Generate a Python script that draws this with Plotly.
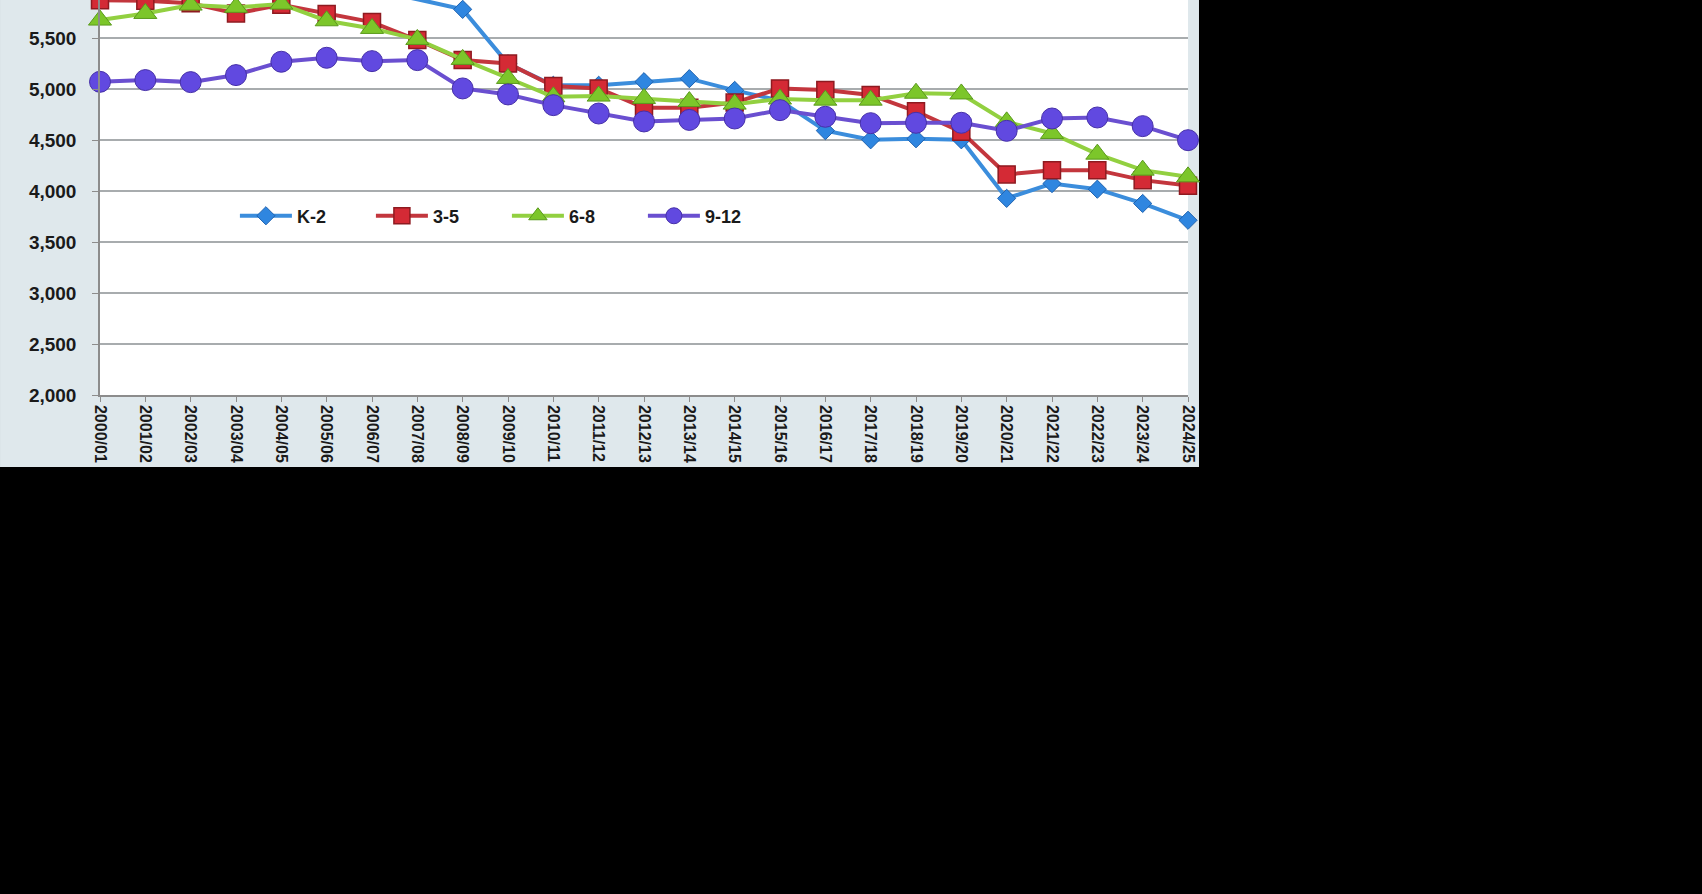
import plotly.graph_objects as go

years = ["2000/01", "2001/02", "2002/03", "2003/04", "2004/05", "2005/06", "2006/07",
         "2007/08", "2008/09", "2009/10", "2010/11", "2011/12", "2012/13", "2013/14",
         "2014/15", "2015/16", "2016/17", "2017/18", "2018/19", "2019/20", "2020/21",
         "2021/22", "2022/23", "2023/24", "2024/25"]

# K-2 runs above the visible top of the chart before 2007/08
k2 = [6100, 6150, 6120, 6080, 6050, 6020, 5970, 5885, 5785, 5250, 5040, 5040, 5075,
      5105, 4990, 4890, 4595, 4505, 4515, 4505, 3930, 4075, 4020, 3880, 3715]
g3_5 = [5875, 5870, 5845, 5745, 5830, 5740, 5660, 5484, 5287, 5254, 5032, 5009, 4820,
        4820, 4870, 5009, 4993, 4945, 4785, 4583, 4165, 4205, 4207, 4109, 4055]
g6_8 = [5680, 5745, 5827, 5805, 5837, 5673, 5598, 5490, 5294, 5107, 4927, 4934, 4911,
        4880, 4855, 4905, 4894, 4894, 4962, 4955, 4681, 4567, 4364, 4207, 4141]
g9_12 = [5074, 5091, 5071, 5140, 5271, 5310, 5277, 5287, 5009, 4950, 4845, 4763, 4685,
         4700, 4714, 4796, 4731, 4668, 4672, 4672, 4593, 4714, 4724, 4639, 4501]

font = dict(family="Liberation Sans, Arial, sans-serif", color="#1a1a1a", weight="bold")

fig = go.Figure()
fig.add_trace(go.Scatter(x=years, y=k2, name="K-2", mode="lines+markers", cliponaxis=False,
                         line=dict(color="#3b8ddc", width=4),
                         marker=dict(symbol="diamond", size=14, color="#2f86e0",
                                     line=dict(color="#1f63b0", width=1))))
fig.add_trace(go.Scatter(x=years, y=g3_5, name="3-5", mode="lines+markers", cliponaxis=False,
                         line=dict(color="#c3363d", width=4),
                         marker=dict(symbol="square", size=17, color="#d42a35",
                                     line=dict(color="#8e1a20", width=1.5))))
fig.add_trace(go.Scatter(x=years, y=g6_8, name="6-8", mode="lines+markers", cliponaxis=False,
                         line=dict(color="#92d040", width=4),
                         marker=dict(symbol="triangle-up", size=20, color="#7cc62a",
                                     line=dict(color="#5a9a1c", width=1))))
fig.add_trace(go.Scatter(x=years, y=g9_12, name="9-12", mode="lines+markers", cliponaxis=False,
                         line=dict(color="#6a4fd0", width=4),
                         marker=dict(symbol="circle", size=21, color="#6149e0",
                                     line=dict(color="#4630a8", width=1))))

# chart panel (light) and plot area (white) drawn under the grid
fig.add_shape(type="rect", xref="paper", yref="paper", x0=-0.0919, x1=1.0101,
              y0=-0.1823, y1=1.0, fillcolor="#dfe8ec", line_width=0, layer="below")
fig.add_shape(type="rect", xref="paper", yref="paper", x0=0, x1=1, y0=0, y1=1,
              fillcolor="#ffffff", line_width=0, layer="below")

fig.update_layout(
    width=1702, height=894,
    margin=dict(l=100, r=514, t=0, b=499),
    paper_bgcolor="#000000", plot_bgcolor="#ffffff",
    font=font,
    showlegend=True,
    legend=dict(orientation="h", x=0.124, y=0.453, xanchor="left", yanchor="middle",
                bgcolor="rgba(0,0,0,0)", font=dict(size=18, **font),
                itemwidth=52, entrywidth=69, entrywidthmode="pixels",
                traceorder="normal"),
)
fig.update_xaxes(type="category", range=[0, 24], tickangle=90, showgrid=False,
                 showline=True, linecolor="#8c8c8c", linewidth=1.5,
                 ticks="outside", ticklen=5, tickcolor="#8c8c8c",
                 tickfont=dict(size=16, **font))
fig.update_yaxes(range=[2000, 5877], dtick=500, tickformat=",", showgrid=True,
                 gridcolor="#a8acae", gridwidth=1.5, zeroline=False,
                 showline=True, linecolor="#8c8c8c", linewidth=1.5,
                 ticks="outside", ticklen=6, tickcolor="#8c8c8c", ticklabelstandoff=12,
                 tickfont=dict(size=19, **font))

fig.write_html("out.html", config={"displayModeBar": False},
               post_script="document.body.style.margin='0';"
                           "document.body.style.background='#000';")
